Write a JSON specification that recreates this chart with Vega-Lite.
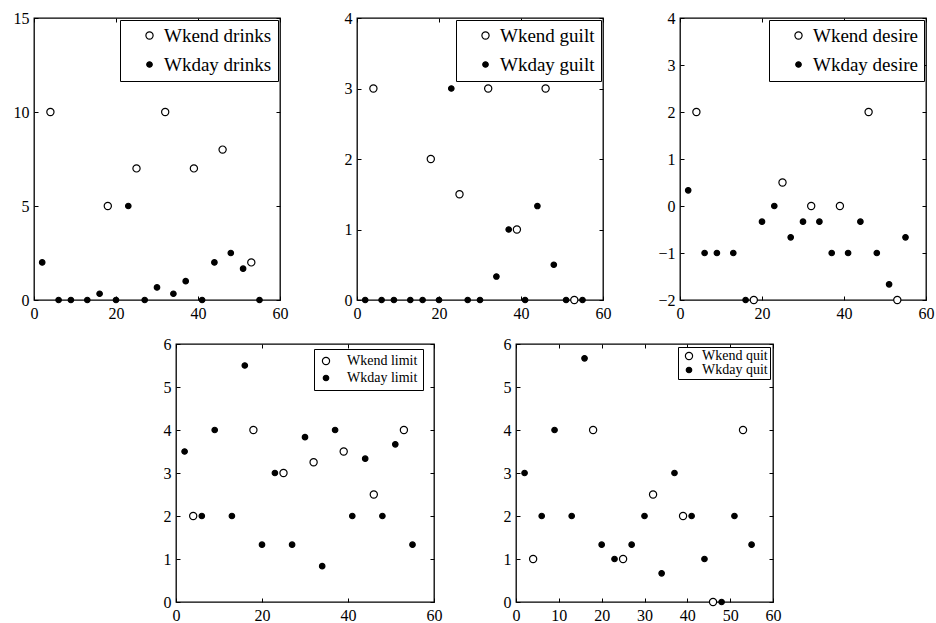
{
  "$schema": "https://vega.github.io/schema/vega-lite/v6.json",
  "padding": {"left": 12, "top": 9, "right": 5, "bottom": 5},
  "background": "white",
  "data": {"values": [
    {"panel": "drinks", "series": "Wkday drinks", "x": 2, "y": 2},
    {"panel": "drinks", "series": "Wkday drinks", "x": 6, "y": 0},
    {"panel": "drinks", "series": "Wkday drinks", "x": 9, "y": 0},
    {"panel": "drinks", "series": "Wkday drinks", "x": 13, "y": 0},
    {"panel": "drinks", "series": "Wkday drinks", "x": 16, "y": 0.333},
    {"panel": "drinks", "series": "Wkday drinks", "x": 20, "y": 0},
    {"panel": "drinks", "series": "Wkday drinks", "x": 23, "y": 5},
    {"panel": "drinks", "series": "Wkday drinks", "x": 27, "y": 0},
    {"panel": "drinks", "series": "Wkday drinks", "x": 30, "y": 0.667},
    {"panel": "drinks", "series": "Wkday drinks", "x": 34, "y": 0.333},
    {"panel": "drinks", "series": "Wkday drinks", "x": 37, "y": 1},
    {"panel": "drinks", "series": "Wkday drinks", "x": 41, "y": 0},
    {"panel": "drinks", "series": "Wkday drinks", "x": 44, "y": 2},
    {"panel": "drinks", "series": "Wkday drinks", "x": 48, "y": 2.5},
    {"panel": "drinks", "series": "Wkday drinks", "x": 51, "y": 1.667},
    {"panel": "drinks", "series": "Wkday drinks", "x": 55, "y": 0},
    {"panel": "drinks", "series": "Wkend drinks", "x": 4, "y": 10},
    {"panel": "drinks", "series": "Wkend drinks", "x": 18, "y": 5},
    {"panel": "drinks", "series": "Wkend drinks", "x": 25, "y": 7},
    {"panel": "drinks", "series": "Wkend drinks", "x": 32, "y": 10},
    {"panel": "drinks", "series": "Wkend drinks", "x": 39, "y": 7},
    {"panel": "drinks", "series": "Wkend drinks", "x": 46, "y": 8},
    {"panel": "drinks", "series": "Wkend drinks", "x": 53, "y": 2},

    {"panel": "guilt", "series": "Wkday guilt", "x": 2, "y": 0},
    {"panel": "guilt", "series": "Wkday guilt", "x": 6, "y": 0},
    {"panel": "guilt", "series": "Wkday guilt", "x": 9, "y": 0},
    {"panel": "guilt", "series": "Wkday guilt", "x": 13, "y": 0},
    {"panel": "guilt", "series": "Wkday guilt", "x": 16, "y": 0},
    {"panel": "guilt", "series": "Wkday guilt", "x": 20, "y": 0},
    {"panel": "guilt", "series": "Wkday guilt", "x": 23, "y": 3},
    {"panel": "guilt", "series": "Wkday guilt", "x": 27, "y": 0},
    {"panel": "guilt", "series": "Wkday guilt", "x": 30, "y": 0},
    {"panel": "guilt", "series": "Wkday guilt", "x": 34, "y": 0.333},
    {"panel": "guilt", "series": "Wkday guilt", "x": 37, "y": 1},
    {"panel": "guilt", "series": "Wkday guilt", "x": 41, "y": 0},
    {"panel": "guilt", "series": "Wkday guilt", "x": 44, "y": 1.333},
    {"panel": "guilt", "series": "Wkday guilt", "x": 48, "y": 0.5},
    {"panel": "guilt", "series": "Wkday guilt", "x": 51, "y": 0},
    {"panel": "guilt", "series": "Wkday guilt", "x": 55, "y": 0},
    {"panel": "guilt", "series": "Wkend guilt", "x": 4, "y": 3},
    {"panel": "guilt", "series": "Wkend guilt", "x": 18, "y": 2},
    {"panel": "guilt", "series": "Wkend guilt", "x": 25, "y": 1.5},
    {"panel": "guilt", "series": "Wkend guilt", "x": 32, "y": 3},
    {"panel": "guilt", "series": "Wkend guilt", "x": 39, "y": 1},
    {"panel": "guilt", "series": "Wkend guilt", "x": 46, "y": 3},
    {"panel": "guilt", "series": "Wkend guilt", "x": 53, "y": 0},

    {"panel": "desire", "series": "Wkday desire", "x": 2, "y": 0.333},
    {"panel": "desire", "series": "Wkday desire", "x": 6, "y": -1},
    {"panel": "desire", "series": "Wkday desire", "x": 9, "y": -1},
    {"panel": "desire", "series": "Wkday desire", "x": 13, "y": -1},
    {"panel": "desire", "series": "Wkday desire", "x": 16, "y": -2},
    {"panel": "desire", "series": "Wkday desire", "x": 20, "y": -0.333},
    {"panel": "desire", "series": "Wkday desire", "x": 23, "y": 0},
    {"panel": "desire", "series": "Wkday desire", "x": 27, "y": -0.667},
    {"panel": "desire", "series": "Wkday desire", "x": 30, "y": -0.333},
    {"panel": "desire", "series": "Wkday desire", "x": 34, "y": -0.333},
    {"panel": "desire", "series": "Wkday desire", "x": 37, "y": -1},
    {"panel": "desire", "series": "Wkday desire", "x": 41, "y": -1},
    {"panel": "desire", "series": "Wkday desire", "x": 44, "y": -0.333},
    {"panel": "desire", "series": "Wkday desire", "x": 48, "y": -1},
    {"panel": "desire", "series": "Wkday desire", "x": 51, "y": -1.667},
    {"panel": "desire", "series": "Wkday desire", "x": 55, "y": -0.667},
    {"panel": "desire", "series": "Wkend desire", "x": 4, "y": 2},
    {"panel": "desire", "series": "Wkend desire", "x": 18, "y": -2},
    {"panel": "desire", "series": "Wkend desire", "x": 25, "y": 0.5},
    {"panel": "desire", "series": "Wkend desire", "x": 32, "y": 0},
    {"panel": "desire", "series": "Wkend desire", "x": 39, "y": 0},
    {"panel": "desire", "series": "Wkend desire", "x": 46, "y": 2},
    {"panel": "desire", "series": "Wkend desire", "x": 53, "y": -2},

    {"panel": "limit", "series": "Wkday limit", "x": 2, "y": 3.5},
    {"panel": "limit", "series": "Wkday limit", "x": 6, "y": 2},
    {"panel": "limit", "series": "Wkday limit", "x": 9, "y": 4},
    {"panel": "limit", "series": "Wkday limit", "x": 13, "y": 2},
    {"panel": "limit", "series": "Wkday limit", "x": 16, "y": 5.5},
    {"panel": "limit", "series": "Wkday limit", "x": 20, "y": 1.333},
    {"panel": "limit", "series": "Wkday limit", "x": 23, "y": 3},
    {"panel": "limit", "series": "Wkday limit", "x": 27, "y": 1.333},
    {"panel": "limit", "series": "Wkday limit", "x": 30, "y": 3.833},
    {"panel": "limit", "series": "Wkday limit", "x": 34, "y": 0.833},
    {"panel": "limit", "series": "Wkday limit", "x": 37, "y": 4},
    {"panel": "limit", "series": "Wkday limit", "x": 41, "y": 2},
    {"panel": "limit", "series": "Wkday limit", "x": 44, "y": 3.333},
    {"panel": "limit", "series": "Wkday limit", "x": 48, "y": 2},
    {"panel": "limit", "series": "Wkday limit", "x": 51, "y": 3.667},
    {"panel": "limit", "series": "Wkday limit", "x": 55, "y": 1.333},
    {"panel": "limit", "series": "Wkend limit", "x": 4, "y": 2},
    {"panel": "limit", "series": "Wkend limit", "x": 18, "y": 4},
    {"panel": "limit", "series": "Wkend limit", "x": 25, "y": 3},
    {"panel": "limit", "series": "Wkend limit", "x": 32, "y": 3.25},
    {"panel": "limit", "series": "Wkend limit", "x": 39, "y": 3.5},
    {"panel": "limit", "series": "Wkend limit", "x": 46, "y": 2.5},
    {"panel": "limit", "series": "Wkend limit", "x": 53, "y": 4},

    {"panel": "quit", "series": "Wkday quit", "x": 2, "y": 3},
    {"panel": "quit", "series": "Wkday quit", "x": 6, "y": 2},
    {"panel": "quit", "series": "Wkday quit", "x": 9, "y": 4},
    {"panel": "quit", "series": "Wkday quit", "x": 13, "y": 2},
    {"panel": "quit", "series": "Wkday quit", "x": 16, "y": 5.667},
    {"panel": "quit", "series": "Wkday quit", "x": 20, "y": 1.333},
    {"panel": "quit", "series": "Wkday quit", "x": 23, "y": 1},
    {"panel": "quit", "series": "Wkday quit", "x": 27, "y": 1.333},
    {"panel": "quit", "series": "Wkday quit", "x": 30, "y": 2},
    {"panel": "quit", "series": "Wkday quit", "x": 34, "y": 0.667},
    {"panel": "quit", "series": "Wkday quit", "x": 37, "y": 3},
    {"panel": "quit", "series": "Wkday quit", "x": 41, "y": 2},
    {"panel": "quit", "series": "Wkday quit", "x": 44, "y": 1},
    {"panel": "quit", "series": "Wkday quit", "x": 48, "y": 0},
    {"panel": "quit", "series": "Wkday quit", "x": 51, "y": 2},
    {"panel": "quit", "series": "Wkday quit", "x": 55, "y": 1.333},
    {"panel": "quit", "series": "Wkend quit", "x": 4, "y": 1},
    {"panel": "quit", "series": "Wkend quit", "x": 18, "y": 4},
    {"panel": "quit", "series": "Wkend quit", "x": 25, "y": 1},
    {"panel": "quit", "series": "Wkend quit", "x": 32, "y": 2.5},
    {"panel": "quit", "series": "Wkend quit", "x": 39, "y": 2},
    {"panel": "quit", "series": "Wkend quit", "x": 46, "y": 0},
    {"panel": "quit", "series": "Wkend quit", "x": 53, "y": 4}
  ]},
  "spacing": 13,
  "resolve": {"scale": {"fill": "independent", "size": "independent"}},
  "vconcat": [
    {
      "bounds": "flush",
      "spacing": 77,
      "resolve": {"scale": {"fill": "independent", "size": "independent"}},
      "hconcat": [
        {
          "width": 246, "height": 282,
          "transform": [{"filter": "datum.panel === 'drinks'"}],
          "layer": [
            {
              "mark": {"type": "point", "filled": false, "opacity": 1},
              "encoding": {
                "x": {"field": "x", "type": "quantitative", "title": null, "scale": {"domain": [0, 60], "nice": false}, "axis": {"orient": "bottom", "values": [0, 20, 40, 60]}},
                "y": {"field": "y", "type": "quantitative", "title": null, "scale": {"domain": [0, 15], "nice": false, "zero": false}, "axis": {"orient": "left", "values": [0, 5, 10, 15]}},
                "stroke": {"value": "black"},
                "strokeWidth": {"value": 1.2},
                "fill": {"field": "series", "type": "nominal", "scale": {"domain": ["Wkend drinks", "Wkday drinks"], "range": ["white", "black"]},
                  "legend": {"title": null, "orient": "top-right", "offset": 2, "padding": 6, "symbolOffset": 14, "labelOffset": 5, "rowPadding": 9, "labelFontSize": 19}},
                "size": {"field": "series", "type": "nominal", "scale": {"domain": ["Wkend drinks", "Wkday drinks"], "range": [52, 30]},
                  "legend": {"title": null, "orient": "top-right", "offset": 2, "padding": 6, "symbolOffset": 14, "labelOffset": 5, "rowPadding": 9, "labelFontSize": 19}}
              }
            },
            {
              "mark": {"type": "point", "opacity": 0},
              "encoding": {
                "x": {"field": "x", "type": "quantitative", "title": null, "axis": {"orient": "top", "values": [0, 20, 40, 60], "labels": false}},
                "y": {"field": "y", "type": "quantitative", "title": null, "axis": {"orient": "right", "values": [0, 5, 10, 15], "labels": false}}
              }
            }
          ],
          "resolve": {"axis": {"x": "independent", "y": "independent"}}
        },
        {
          "width": 246, "height": 282,
          "transform": [{"filter": "datum.panel === 'guilt'"}],
          "layer": [
            {
              "mark": {"type": "point", "filled": false, "opacity": 1},
              "encoding": {
                "x": {"field": "x", "type": "quantitative", "title": null, "scale": {"domain": [0, 60], "nice": false}, "axis": {"orient": "bottom", "values": [0, 20, 40, 60]}},
                "y": {"field": "y", "type": "quantitative", "title": null, "scale": {"domain": [0, 4], "nice": false, "zero": false}, "axis": {"orient": "left", "values": [0, 1, 2, 3, 4]}},
                "stroke": {"value": "black"},
                "strokeWidth": {"value": 1.2},
                "fill": {"field": "series", "type": "nominal", "scale": {"domain": ["Wkend guilt", "Wkday guilt"], "range": ["white", "black"]},
                  "legend": {"title": null, "orient": "top-right", "offset": 2, "padding": 6, "symbolOffset": 14, "labelOffset": 5, "rowPadding": 9, "labelFontSize": 19}},
                "size": {"field": "series", "type": "nominal", "scale": {"domain": ["Wkend guilt", "Wkday guilt"], "range": [52, 30]},
                  "legend": {"title": null, "orient": "top-right", "offset": 2, "padding": 6, "symbolOffset": 14, "labelOffset": 5, "rowPadding": 9, "labelFontSize": 19}}
              }
            },
            {
              "mark": {"type": "point", "opacity": 0},
              "encoding": {
                "x": {"field": "x", "type": "quantitative", "title": null, "axis": {"orient": "top", "values": [0, 20, 40, 60], "labels": false}},
                "y": {"field": "y", "type": "quantitative", "title": null, "axis": {"orient": "right", "values": [0, 1, 2, 3, 4], "labels": false}}
              }
            }
          ],
          "resolve": {"axis": {"x": "independent", "y": "independent"}}
        },
        {
          "width": 246, "height": 282,
          "transform": [{"filter": "datum.panel === 'desire'"}],
          "layer": [
            {
              "mark": {"type": "point", "filled": false, "opacity": 1},
              "encoding": {
                "x": {"field": "x", "type": "quantitative", "title": null, "scale": {"domain": [0, 60], "nice": false}, "axis": {"orient": "bottom", "values": [0, 20, 40, 60]}},
                "y": {"field": "y", "type": "quantitative", "title": null, "scale": {"domain": [-2, 4], "nice": false, "zero": false}, "axis": {"orient": "left", "values": [-2, -1, 0, 1, 2, 3, 4]}},
                "stroke": {"value": "black"},
                "strokeWidth": {"value": 1.2},
                "fill": {"field": "series", "type": "nominal", "scale": {"domain": ["Wkend desire", "Wkday desire"], "range": ["white", "black"]},
                  "legend": {"title": null, "orient": "top-right", "offset": 2, "padding": 6, "symbolOffset": 14, "labelOffset": 5, "rowPadding": 9, "labelFontSize": 19}},
                "size": {"field": "series", "type": "nominal", "scale": {"domain": ["Wkend desire", "Wkday desire"], "range": [52, 30]},
                  "legend": {"title": null, "orient": "top-right", "offset": 2, "padding": 6, "symbolOffset": 14, "labelOffset": 5, "rowPadding": 9, "labelFontSize": 19}}
              }
            },
            {
              "mark": {"type": "point", "opacity": 0},
              "encoding": {
                "x": {"field": "x", "type": "quantitative", "title": null, "axis": {"orient": "top", "values": [0, 20, 40, 60], "labels": false}},
                "y": {"field": "y", "type": "quantitative", "title": null, "axis": {"orient": "right", "values": [-2, -1, 0, 1, 2, 3, 4], "labels": false}}
              }
            }
          ],
          "resolve": {"axis": {"x": "independent", "y": "independent"}}
        }
      ]
    },
    {
      "bounds": "flush",
      "spacing": 82,
      "resolve": {"scale": {"fill": "independent", "size": "independent"}},
      "hconcat": [
        {
          "width": 60, "height": 258,
          "view": {"stroke": null},
          "transform": [{"filter": "datum.panel === 'none'"}],
          "mark": {"type": "point", "opacity": 0},
          "encoding": {}
        },
        {
          "width": 258, "height": 258,
          "transform": [{"filter": "datum.panel === 'limit'"}],
          "layer": [
            {
              "mark": {"type": "point", "filled": false, "opacity": 1},
              "encoding": {
                "x": {"field": "x", "type": "quantitative", "title": null, "scale": {"domain": [0, 60], "nice": false}, "axis": {"orient": "bottom", "values": [0, 20, 40, 60]}},
                "y": {"field": "y", "type": "quantitative", "title": null, "scale": {"domain": [0, 6], "nice": false, "zero": false}, "axis": {"orient": "left", "values": [0, 1, 2, 3, 4, 5, 6]}},
                "stroke": {"value": "black"},
                "strokeWidth": {"value": 1.2},
                "fill": {"field": "series", "type": "nominal", "scale": {"domain": ["Wkend limit", "Wkday limit"], "range": ["white", "black"]},
                  "legend": {"title": null, "orient": "none", "legendX": 138, "legendY": 5, "padding": 5, "symbolOffset": 0, "labelOffset": 14, "rowPadding": 3, "labelFontSize": 14}},
                "size": {"field": "series", "type": "nominal", "scale": {"domain": ["Wkend limit", "Wkday limit"], "range": [52, 30]},
                  "legend": {"title": null, "orient": "none", "legendX": 138, "legendY": 5, "padding": 5, "symbolOffset": 0, "labelOffset": 14, "rowPadding": 3, "labelFontSize": 14}}
              }
            },
            {
              "mark": {"type": "point", "opacity": 0},
              "encoding": {
                "x": {"field": "x", "type": "quantitative", "title": null, "axis": {"orient": "top", "values": [0, 20, 40, 60], "labels": false}},
                "y": {"field": "y", "type": "quantitative", "title": null, "axis": {"orient": "right", "values": [0, 1, 2, 3, 4, 5, 6], "labels": false}}
              }
            }
          ],
          "resolve": {"axis": {"x": "independent", "y": "independent"}}
        },
        {
          "width": 257, "height": 258,
          "transform": [{"filter": "datum.panel === 'quit'"}],
          "layer": [
            {
              "mark": {"type": "point", "filled": false, "opacity": 1},
              "encoding": {
                "x": {"field": "x", "type": "quantitative", "title": null, "scale": {"domain": [0, 60], "nice": false}, "axis": {"orient": "bottom", "values": [0, 10, 20, 30, 40, 50, 60]}},
                "y": {"field": "y", "type": "quantitative", "title": null, "scale": {"domain": [0, 6], "nice": false, "zero": false}, "axis": {"orient": "left", "values": [0, 1, 2, 3, 4, 5, 6]}},
                "stroke": {"value": "black"},
                "strokeWidth": {"value": 1.2},
                "fill": {"field": "series", "type": "nominal", "scale": {"domain": ["Wkend quit", "Wkday quit"], "range": ["white", "black"]},
                  "legend": {"title": null, "orient": "top-right", "offset": 3, "padding": 2, "symbolOffset": 2, "labelOffset": 6, "rowPadding": 0, "labelFontSize": 14}},
                "size": {"field": "series", "type": "nominal", "scale": {"domain": ["Wkend quit", "Wkday quit"], "range": [52, 30]},
                  "legend": {"title": null, "orient": "top-right", "offset": 3, "padding": 2, "symbolOffset": 2, "labelOffset": 6, "rowPadding": 0, "labelFontSize": 14}}
              }
            },
            {
              "mark": {"type": "point", "opacity": 0},
              "encoding": {
                "x": {"field": "x", "type": "quantitative", "title": null, "axis": {"orient": "top", "values": [0, 10, 20, 30, 40, 50, 60], "labels": false}},
                "y": {"field": "y", "type": "quantitative", "title": null, "axis": {"orient": "right", "values": [0, 1, 2, 3, 4, 5, 6], "labels": false}}
              }
            }
          ],
          "resolve": {"axis": {"x": "independent", "y": "independent"}}
        }
      ]
    }
  ],
  "config": {
    "view": {"stroke": "black", "strokeWidth": 1.3},
    "axis": {
      "domain": false, "grid": false, "ticks": true, "tickColor": "black", "tickSize": -4, "tickWidth": 1,
      "labelFont": "Liberation Serif", "labelFontSize": 16, "labelColor": "black",
      "labelFlush": false, "labelOverlap": false
    },
    "axisX": {"labelPadding": 9},
    "axisY": {"labelPadding": 9},
    "legend": {
      "labelFont": "Liberation Serif", "labelColor": "black", "strokeColor": "black", "fillColor": "white",
      "symbolStrokeWidth": 1.2, "labelLimit": 300
    }
  }
}
